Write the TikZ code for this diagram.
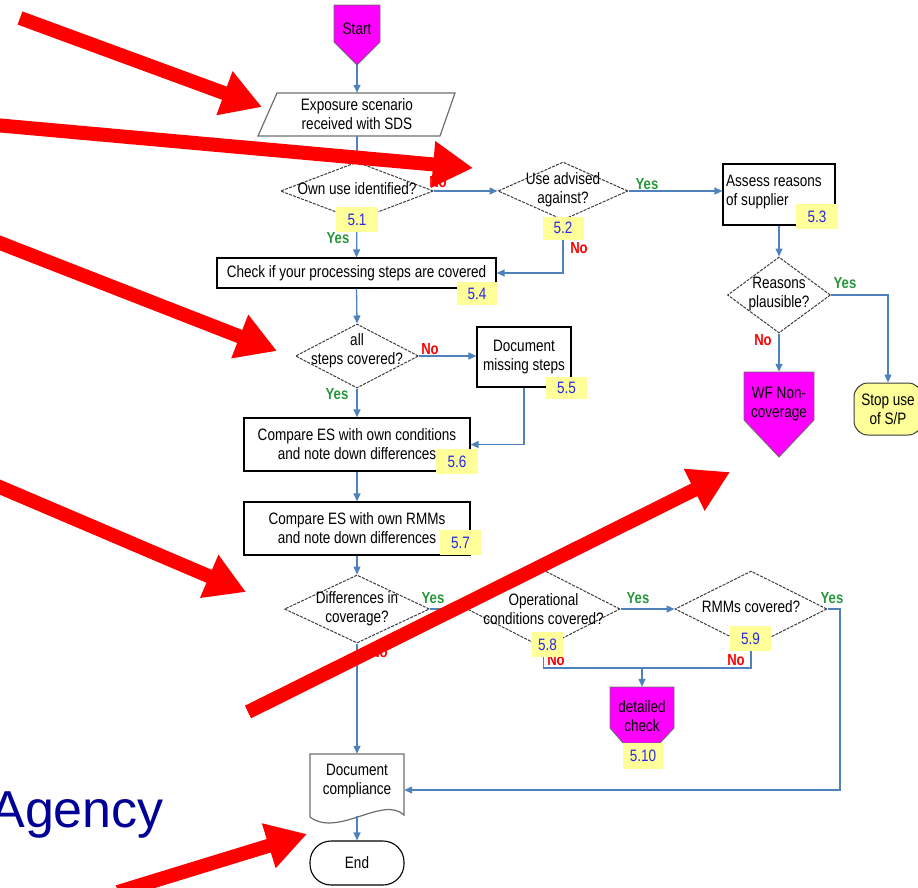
\documentclass[tikz,border=0pt]{standalone}
\usepackage{fontspec}
\setmainfont{Liberation Sans}[FakeStretch=0.82]
\newfontfamily\agencyfont{Liberation Sans}
\usetikzlibrary{shapes.geometric,arrows.meta}
\definecolor{conn}{RGB}{79,129,189}
\definecolor{lblyellow}{RGB}{255,255,153}
\definecolor{lblblue}{RGB}{40,40,230}
\definecolor{yesgreen}{RGB}{40,150,60}
\definecolor{nored}{RGB}{255,0,0}
\definecolor{diagray}{RGB}{60,60,60}
\definecolor{shgray}{RGB}{110,110,110}
\definecolor{mag}{RGB}{255,0,255}
\definecolor{agencyblue}{RGB}{0,0,150}
\definecolor{bigred}{RGB}{255,0,0}
\begin{document}
\begin{tikzpicture}[x=1pt,y=-1pt,
  txt/.style={font=\fontsize{16.5}{19}\selectfont, align=center, inner sep=0pt},
  box/.style={draw=black, line width=1.2pt, rectangle, inner sep=0pt, txt},
  ghost/.style={rectangle, inner sep=0pt},
  dia/.style={diamond, draw=diagray, line width=1pt, dash pattern=on 3pt off 1.2pt, inner sep=0pt},
  lbl/.style={fill=lblyellow, text=lblblue, inner sep=0pt, font=\fontsize{16.5}{19}\selectfont},
  yes/.style={text=yesgreen, inner sep=0pt, font=\fontsize{16}{19}\selectfont\bfseries},
  no/.style={text=nored, inner sep=0pt, font=\fontsize{16}{19}\selectfont\bfseries},
  flow/.style={draw=conn, line width=1.3pt},
  arr/.style={flow, -{Triangle[length=8pt,width=7pt]}},
  big/.style={draw=bigred, line width=14pt, -{Triangle[length=40pt,width=44pt]}}
]
\useasboundingbox (0,0) rectangle (918,887);

% ---------- shapes ----------
% Start
\fill[mag] (334,5) -- (380,5) -- (380,42) -- (357,65) -- (334,42) -- cycle;
\draw[shgray, line width=0.9pt] (334,5) -- (380,5) -- (380,42) -- (357,65) -- (334,42) -- cycle;
\node[ghost, minimum width=46pt, minimum height=60pt] (start) at (357,35) {};
\node[txt] (tstart) at (357,29) {Start};

% Exposure scenario (parallelogram)
\draw[shgray, line width=1.2pt] (277,93) -- (455,93) -- (440,136) -- (258,136) -- cycle;
\node[ghost, minimum width=180pt, minimum height=43pt, txt] (es) at (357,114.5) {Exposure scenario\\received with SDS};

% Decision 1
\node[dia, minimum width=153pt, minimum height=58pt] (d1) at (357,191) {};
\node[txt] (t1) at (357,189) {Own use identified?};

% Decision 2
\node[dia, minimum width=130pt, minimum height=58pt] (d2) at (563,191) {};
\node[txt] (t2) at (563,190) {Use advised\\against?};

% Assess reasons
\node[box, minimum width=112pt, minimum height=61pt] (assess) at (779,194.5) {};
\node[txt, anchor=west, align=left] (tassess) at (726,192) {Assess reasons\\of supplier};

% Reasons plausible
\node[dia, minimum width=103pt, minimum height=76pt] (d3) at (779,295) {};
\node[txt] (t3) at (779,294) {Reasons\\plausible?};

% WF Non-coverage
\fill[mag] (744,372) -- (814,372) -- (814,420) -- (779,457) -- (744,420) -- cycle;
\draw[shgray, line width=0.9pt] (744,372) -- (814,372) -- (814,420) -- (779,457) -- (744,420) -- cycle;
\node[ghost, minimum width=70pt, minimum height=85pt] (wf) at (779,414.5) {};
\node[txt] (twf) at (779,404) {WF Non-\\coverage};

% Stop use
\node[draw=diagray, fill=lblyellow, line width=1pt, rounded corners=14pt, minimum width=68pt, minimum height=52pt, txt] (stop) at (888,409) {Stop use\\of S/P};

% Check box
\node[box, minimum width=279pt, minimum height=30pt] (check) at (356.5,273) {Check if your processing steps are covered};

% Decision all steps
\node[dia, minimum width=123pt, minimum height=64pt] (d4) at (357,356) {};
\node[txt] (t4) at (357,351) {all\\steps covered?};

% Document missing steps
\node[box, minimum width=94pt, minimum height=60pt] (dms) at (524,357) {Document\\missing steps};

% Compare 1
\node[box, minimum width=226pt, minimum height=53pt] (c1) at (357,444.5) {Compare ES with own conditions\\and note down differences};

% Compare 2
\node[box, minimum width=226pt, minimum height=53pt] (c2) at (357,528.5) {Compare ES with own RMMs\\and note down differences};

% Differences in coverage
\node[dia, minimum width=145pt, minimum height=68pt] (d5) at (357,609) {};
\node[txt] (t5) at (357,609) {Differences in\\coverage?};

% Operational conditions covered
\node[dia, minimum width=153pt, minimum height=78pt] (d6) at (543.5,609) {};
\node[txt] (t6) at (543.5,609) {Operational\\conditions covered?};

% RMMs covered
\node[dia, minimum width=152pt, minimum height=76pt] (d7) at (751,609) {};
\node[txt] (t7) at (751,607) {RMMs covered?};

% detailed check
\fill[mag] (610,687) -- (674,687) -- (674,728) -- (660,743) -- (623,743) -- (610,728) -- cycle;
\draw[shgray, line width=0.9pt] (610,687) -- (674,687) -- (674,728) -- (660,743) -- (623,743) -- (610,728) -- cycle;
\node[ghost, minimum width=64pt, minimum height=56pt] (det) at (642,715) {};
\node[txt] (tdet) at (642,716) {detailed\\check};

% Document compliance
\draw[shgray, line width=1.2pt] (310,754) -- (404,754) -- (404,815) .. controls (383,795) and (338,838) .. (310,817) -- cycle;
\node[ghost, minimum width=94pt, minimum height=72pt] (doc) at (357,790) {};
\node[txt] (tdoc) at (357,781) {Document\\compliance};
\coordinate (docb) at (357,816);

% End
\node[draw=black, line width=1.1pt, rounded corners=21pt, minimum width=94pt, minimum height=44pt, txt] (endn) at (357,863) {End};

% ---------- connectors ----------
\draw[arr] (start.south) -- (es.north);
\draw[arr] (es.south) -- (d1.north);
\draw[arr] (d1.east) -- (d2.west);
\draw[arr] (d1.south) -- (check.north);
\draw[arr] (d2.south) |- (check.east);
\draw[arr] (d2.east) -- (d2.east -| assess.west);
\draw[arr] (assess.south) -- (d3.north);
\draw[arr] (d3.south) -- (wf.north);
\draw[arr] (d3.east) -| (stop.north);
\draw[arr] (check.south) -- (d4.north);
\draw[arr] (d4.east) -- (d4.east -| dms.west);
\draw[arr] (dms.south) |- (c1.east);
\draw[arr] (d4.south) -- (c1.north);
\draw[arr] (c1.south) -- (c2.north);
\draw[arr] (c2.south) -- (d5.north);
\draw[arr] (d5.east) -- (d6.west);
\draw[arr] (d6.east) -- (d7.west);
\coordinate (jn) at (642,668);
\draw[flow] (d6.south) |- (jn);
\draw[flow] (d7.south) |- (jn);
\draw[arr] (jn) -- (det.north);
\coordinate (rr) at (840,609);
\draw[arr] (d7.east) -- (rr) |- (doc.east);
\draw[arr] (d5.south) -- (doc.north);
\draw[arr] (docb) -- (endn.north);

% ---------- yes / no ----------
\node[no] (n1) at (438,182) {No};
\node[yes] (y1) at (338,238) {Yes};
\node[yes] (y2) at (647,184) {Yes};
\node[no] (n2) at (579,248) {No};
\node[yes] (y3) at (845,283) {Yes};
\node[no] (n3) at (763,340) {No};
\node[no] (n4) at (430,349) {No};
\node[yes] (y4) at (337,394) {Yes};
\node[yes] (y5) at (433,598) {Yes};
\node[no] (n5) at (379,652) {No};
\node[yes] (y6) at (638,598) {Yes};
\node[no] (n6) at (556,660) {No};
\node[yes] (y7) at (832,598) {Yes};
\node[no] (n7) at (736,660) {No};

% ---------- step labels ----------
\node[lbl, minimum width=42pt, minimum height=25pt] (l51) at (357,219.5) {5.1};
\node[lbl, minimum width=41pt, minimum height=23pt] (l52) at (563,228) {5.2};
\node[lbl, minimum width=42pt, minimum height=25pt] (l53) at (817,216.5) {5.3};
\node[lbl, minimum width=40pt, minimum height=23pt] (l54) at (477,293.5) {5.4};
\node[lbl, minimum width=41pt, minimum height=22pt] (l55) at (566.5,388) {5.5};
\node[lbl, minimum width=42pt, minimum height=25pt] (l56) at (457,461.5) {5.6};
\node[lbl, minimum width=41pt, minimum height=25pt] (l57) at (460.5,542.5) {5.7};
\node[lbl, minimum width=31pt, minimum height=25pt] (l58) at (547.5,644.5) {5.8};
\node[lbl, minimum width=41pt, minimum height=25pt] (l59) at (750.5,638.5) {5.9};
\node[lbl, minimum width=40pt, minimum height=26pt] (l510) at (643,756) {5.10};

% ---------- Agency ----------
\node[anchor=base east, inner sep=0pt, text=agencyblue, font=\agencyfont\fontsize{52}{60}\selectfont] (agency) at (164,827) {Agency};

% ---------- red arrows ----------
\coordinate (a1s) at (20,18);   \coordinate (a1e) at (262,107);
\coordinate (a2s) at (-5,125);  \coordinate (a2e) at (473,168);
\coordinate (a3s) at (-5,241);  \coordinate (a3e) at (277,351);
\coordinate (a4s) at (-5,485);  \coordinate (a4e) at (246,592);
\coordinate (a5s) at (248,712); \coordinate (a5e) at (730,472);
\coordinate (a6s) at (118,892); \coordinate (a6e) at (307,834);
\draw[big] (a1s) -- (a1e);
\draw[big] (a2s) -- (a2e);
\draw[big] (a3s) -- (a3e);
\draw[big] (a4s) -- (a4e);
\draw[big] (a5s) -- (a5e);
\draw[big] (a6s) -- (a6e);
\end{tikzpicture}
\end{document}
